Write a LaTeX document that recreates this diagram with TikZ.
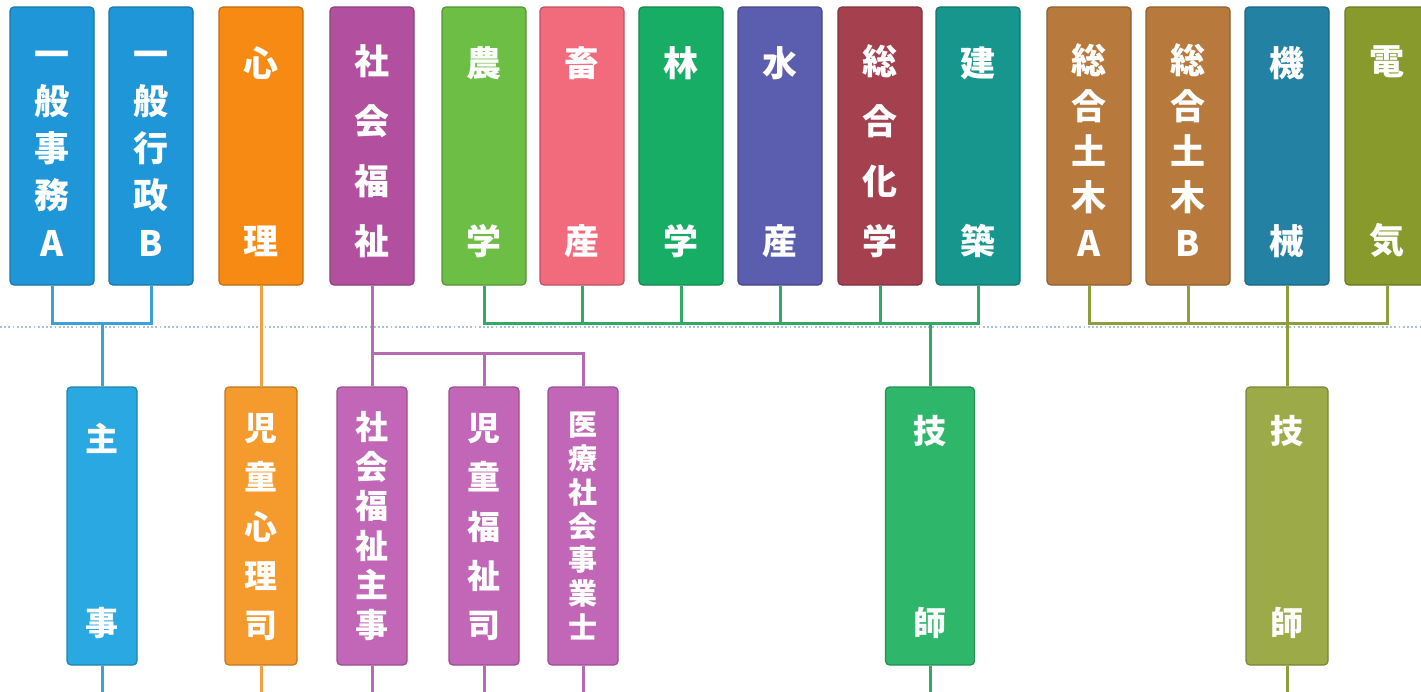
\documentclass[tikz,border=0pt]{standalone}
\usepackage{fontspec}
\newfontfamily\jp{Noto Sans CJK JP}
\definecolor{cIppan}{HTML}{1F96D8}
\definecolor{cShinri}{HTML}{F68A12}
\definecolor{cFukushi}{HTML}{B2509F}
\definecolor{cNogaku}{HTML}{6CBE45}
\definecolor{cChikusan}{HTML}{F16B7C}
\definecolor{cRingaku}{HTML}{18AD64}
\definecolor{cSuisan}{HTML}{5B5DAE}
\definecolor{cKagaku}{HTML}{A5404F}
\definecolor{cKenchiku}{HTML}{16968D}
\definecolor{cDoboku}{HTML}{B77A3C}
\definecolor{cKikai}{HTML}{2381A3}
\definecolor{cDenki}{HTML}{889A2C}
\definecolor{cShuji}{HTML}{2AA8E2}
\definecolor{cJidoShinri}{HTML}{F59A2C}
\definecolor{cFukushiB}{HTML}{C266B8}
\definecolor{cGishiG}{HTML}{2EB76B}
\definecolor{cGishiO}{HTML}{9DAA48}
\definecolor{lBlue}{HTML}{3DA0DA}
\definecolor{lOrange}{HTML}{F0A040}
\definecolor{lPurple}{HTML}{B56AB2}
\definecolor{lGreen}{HTML}{35A865}
\definecolor{lOlive}{HTML}{8F9E3C}
\definecolor{lDots}{HTML}{A6C4D6}
\newcommand\nx{\par\vfill}
% #1 height of text column, #2 space above first character, #3 characters
\newcommand\vst[3]{\parbox[c][#1][s]{60pt}{\centering\vspace*{#2}#3}}
\tikzset{
  box/.style={draw=#1!78!black, fill=#1, rounded corners=4pt, line width=1.2pt,
    inner sep=0pt, text=white, minimum height=278pt,
    font=\jp\bfseries\fontsize{35}{35}\selectfont},
  topbox/.style={box=#1, minimum width=84pt},
  botbox/.style={box=#1, minimum width=70pt,
    font=\jp\bfseries\fontsize{33}{33}\selectfont},
  conn/.style={draw=#1, line width=3pt},
}
\begin{document}
\begin{tikzpicture}[x=1pt,y=-1pt]
\clip (0,0) rectangle (1421,691);
\fill[white] (0,0) rectangle (1421,691);
\coordinate (bottom) at (0,700);
% dotted guide line
\coordinate (dl) at (0,327);
\coordinate (dr) at (1421,327);
\draw[lDots, line width=1.6pt, dash pattern=on 1.8pt off 2.4pt] (dl) -- (dr);

% top row
\node[topbox=cIppan] (jimuA) at (52,146) {\vst{220pt}{15pt}{一\nx 般\nx 事\nx 務\nx A}};
\node[topbox=cIppan] (gyoseiB) at (151,146) {\vst{220pt}{15pt}{一\nx 般\nx 行\nx 政\nx B}};
\node[topbox=cShinri] (shinri) at (261,146) {\vst{220pt}{12pt}{心\nx 理}};
\node[topbox=cFukushi] (fukushi) at (372,146) {\vst{220pt}{10pt}{社\nx 会\nx 福\nx 祉}};
\node[topbox=cNogaku] (nogaku) at (484,146) {\vst{220pt}{12pt}{農\nx 学}};
\node[topbox=cChikusan] (chikusan) at (582,146) {\vst{220pt}{12pt}{畜\nx 産}};
\node[topbox=cRingaku] (ringaku) at (681,146) {\vst{220pt}{12pt}{林\nx 学}};
\node[topbox=cSuisan] (suisan) at (780,146) {\vst{220pt}{12pt}{水\nx 産}};
\node[topbox=cKagaku] (kagaku) at (880,146) {\vst{220pt}{10pt}{総\nx 合\nx 化\nx 学}};
\node[topbox=cKenchiku] (kenchiku) at (978,146) {\vst{220pt}{12pt}{建\nx 築}};
\node[topbox=cDoboku] (dobokuA) at (1089,146) {\vst{220pt}{8pt}{総\nx 合\nx 土\nx 木\nx A}};
\node[topbox=cDoboku] (dobokuB) at (1188,146) {\vst{220pt}{8pt}{総\nx 合\nx 土\nx 木\nx B}};
\node[topbox=cKikai] (kikai) at (1287,146) {\vst{220pt}{12pt}{機\nx 械}};
\node[topbox=cDenki] (denki) at (1387,146) {\vst{220pt}{12pt}{電\nx 気}};

% bottom row
\node[botbox=cShuji] (shuji) at (102,526) {\vst{222pt}{10pt}{主\nx 事}};
\node[botbox=cJidoShinri, minimum width=72pt] (jidoshinri) at (261,526) {\vst{226pt}{2pt}{児\nx 童\nx 心\nx 理\nx 司}};
\node[botbox=cFukushiB] (fshuji) at (372,526) {\vst{226pt}{0pt}{社\nx 会\nx 福\nx 祉\nx 主\nx 事}};
\node[botbox=cFukushiB] (jidofukushi) at (484,526) {\vst{226pt}{2pt}{児\nx 童\nx 福\nx 祉\nx 司}};
\node[botbox=cFukushiB, font=\jp\bfseries\fontsize{29}{29}\selectfont] (iryo) at (583,526) {\vst{226pt}{0pt}{医\nx 療\nx 社\nx 会\nx 事\nx 業\nx 士}};
\node[botbox=cGishiG, minimum width=89pt] (gishiG) at (930,526) {\vst{222pt}{2pt}{技\nx 師}};
\node[botbox=cGishiO, minimum width=82pt] (gishiO) at (1287,526) {\vst{222pt}{2pt}{技\nx 師}};

% junctions
\coordinate (jBlue) at (102,323);
\coordinate (jPurple) at (372,353);
\coordinate (jGreen) at (930,323);
\coordinate (jOlive) at (1287,323);

% blue
\draw[conn=lBlue] (jimuA.south) |- (jBlue) -| (gyoseiB.south);
\draw[conn=lBlue] (jBlue) -- (shuji.north);
\draw[conn=lBlue] (shuji.south) -- (shuji.south |- bottom);
% orange
\draw[conn=lOrange] (shinri.south) -- (jidoshinri.north);
\draw[conn=lOrange] (jidoshinri.south) -- (jidoshinri.south |- bottom);
% purple
\draw[conn=lPurple] (fukushi.south) -- (fshuji.north);
\draw[conn=lPurple] (jPurple) -| (iryo.north);
\draw[conn=lPurple] (jidofukushi.north) -- (jidofukushi.north |- jPurple);
\draw[conn=lPurple] (fshuji.south) -- (fshuji.south |- bottom);
\draw[conn=lPurple] (jidofukushi.south) -- (jidofukushi.south |- bottom);
\draw[conn=lPurple] (iryo.south) -- (iryo.south |- bottom);
% green
\draw[conn=lGreen] (nogaku.south) |- (jGreen) -| (kenchiku.south);
\draw[conn=lGreen] (chikusan.south) -- (chikusan.south |- jGreen);
\draw[conn=lGreen] (ringaku.south) -- (ringaku.south |- jGreen);
\draw[conn=lGreen] (suisan.south) -- (suisan.south |- jGreen);
\draw[conn=lGreen] (kagaku.south) -- (kagaku.south |- jGreen);
\draw[conn=lGreen] (jGreen) -- (gishiG.north);
\draw[conn=lGreen] (gishiG.south) -- (gishiG.south |- bottom);
% olive
\draw[conn=lOlive] (dobokuA.south) |- (jOlive) -| (denki.south);
\draw[conn=lOlive] (dobokuB.south) -- (dobokuB.south |- jOlive);
\draw[conn=lOlive] (kikai.south) -- (gishiO.north);
\draw[conn=lOlive] (gishiO.south) -- (gishiO.south |- bottom);
\end{tikzpicture}
\end{document}
